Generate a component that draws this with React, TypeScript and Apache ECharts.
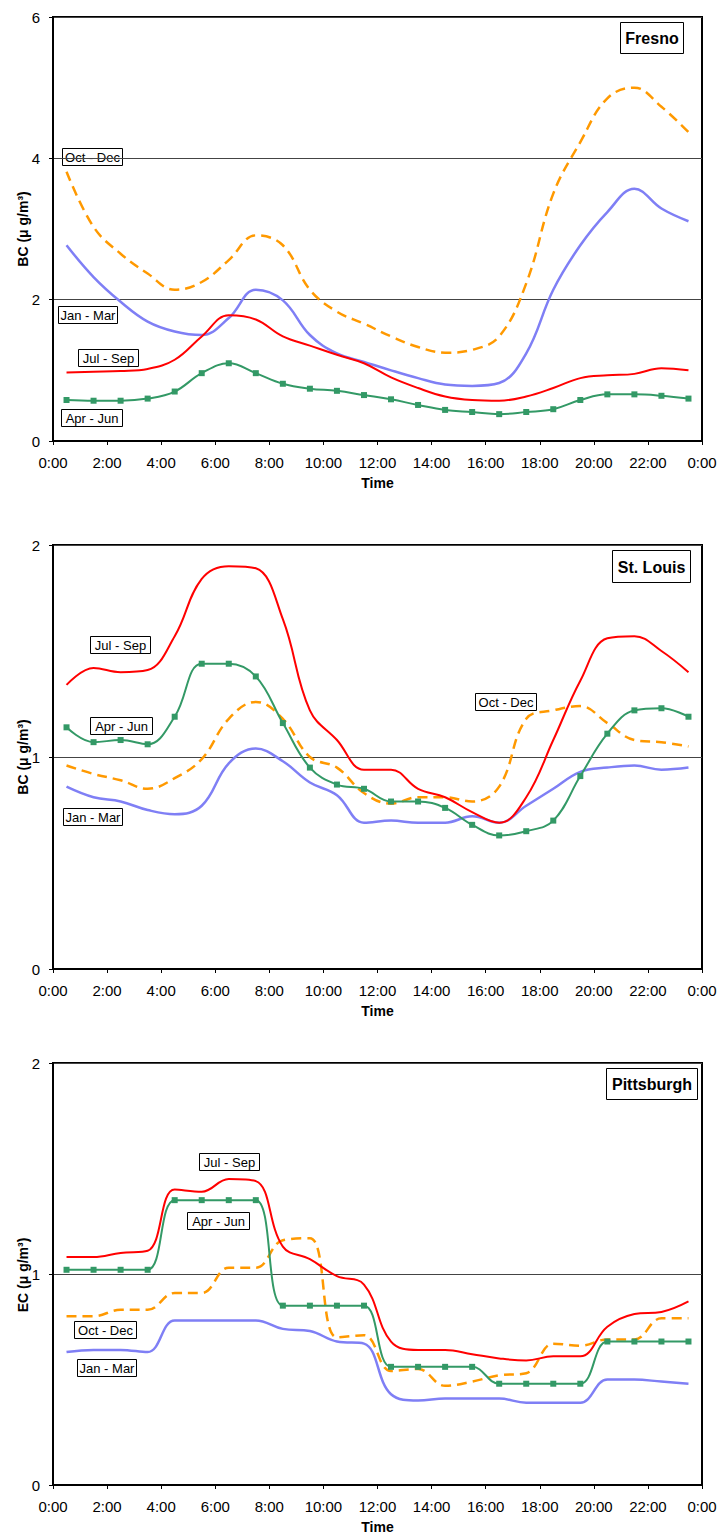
import React, { useEffect, useRef } from "react";
import * as echarts from "echarts";

const hours = [0.5, 1.5, 2.5, 3.5, 4.5, 5.5, 6.5, 7.5, 8.5, 9.5, 10.5, 11.5, 12.5, 13.5, 14.5, 15.5, 16.5, 17.5, 18.5, 19.5, 20.5, 21.5, 22.5, 23.5];
const xTickLabels = ["0:00", "2:00", "4:00", "6:00", "8:00", "10:00", "12:00", "14:00", "16:00", "18:00", "20:00", "22:00", "0:00"];
const seasonNames = ["Jan - Mar", "Apr - Jun", "Jul - Sep", "Oct - Dec"];

// Fresno (BC)
const fresnoJanMar = [2.77, 2.32, 1.97, 1.69, 1.55, 1.5, 1.74, 2.14, 1.99, 1.5, 1.24, 1.12, 1.0, 0.89, 0.8, 0.78, 0.82, 1.24, 2.14, 2.77, 3.24, 3.57, 3.29, 3.11];
const fresnoAprJun = [0.58, 0.57, 0.57, 0.6, 0.7, 0.96, 1.1, 0.96, 0.81, 0.74, 0.71, 0.65, 0.59, 0.51, 0.44, 0.41, 0.38, 0.41, 0.45, 0.58, 0.66, 0.66, 0.64, 0.6];
const fresnoJulSep = [0.97, 0.98, 0.99, 1.02, 1.15, 1.48, 1.78, 1.72, 1.48, 1.35, 1.22, 1.1, 0.9, 0.75, 0.63, 0.58, 0.57, 0.63, 0.75, 0.89, 0.93, 0.95, 1.03, 1.0];
const fresnoOctDec = [3.81, 3.03, 2.65, 2.37, 2.14, 2.25, 2.56, 2.91, 2.77, 2.14, 1.83, 1.66, 1.48, 1.33, 1.25, 1.29, 1.48, 2.23, 3.5, 4.23, 4.85, 5.0, 4.73, 4.37];

// St. Louis (BC)
const stLouisJanMar = [0.86, 0.81, 0.79, 0.75, 0.73, 0.77, 0.97, 1.04, 0.98, 0.88, 0.82, 0.69, 0.7, 0.69, 0.69, 0.72, 0.69, 0.77, 0.85, 0.93, 0.95, 0.96, 0.94, 0.95];
const stLouisAprJun = [1.14, 1.07, 1.08, 1.06, 1.19, 1.44, 1.44, 1.38, 1.16, 0.95, 0.87, 0.85, 0.79, 0.79, 0.76, 0.68, 0.63, 0.65, 0.7, 0.91, 1.11, 1.22, 1.23, 1.19];
const stLouisJulSep = [1.34, 1.42, 1.4, 1.41, 1.57, 1.84, 1.9, 1.89, 1.65, 1.22, 1.08, 0.94, 0.94, 0.85, 0.81, 0.74, 0.69, 0.81, 1.08, 1.36, 1.56, 1.57, 1.5, 1.4];
const stLouisOctDec = [0.96, 0.92, 0.89, 0.85, 0.9, 0.99, 1.18, 1.26, 1.18, 1.0, 0.95, 0.83, 0.78, 0.81, 0.81, 0.79, 0.86, 1.18, 1.22, 1.24, 1.16, 1.08, 1.07, 1.05];

// Pittsburgh (EC)
const pittJanMar = [0.63, 0.64, 0.64, 0.63, 0.78, 0.78, 0.78, 0.78, 0.74, 0.73, 0.68, 0.67, 0.43, 0.4, 0.41, 0.41, 0.41, 0.39, 0.39, 0.39, 0.5, 0.5, 0.49, 0.48];
const pittAprJun = [1.02, 1.02, 1.02, 1.02, 1.35, 1.35, 1.35, 1.35, 0.85, 0.85, 0.85, 0.85, 0.56, 0.56, 0.56, 0.56, 0.48, 0.48, 0.48, 0.48, 0.68, 0.68, 0.68, 0.68];
const pittJulSep = [1.08, 1.08, 1.1, 1.11, 1.4, 1.39, 1.45, 1.44, 1.13, 1.07, 0.99, 0.95, 0.68, 0.64, 0.64, 0.62, 0.6, 0.59, 0.61, 0.61, 0.75, 0.81, 0.82, 0.87];
const pittOctDec = [0.8, 0.8, 0.83, 0.83, 0.91, 0.91, 1.03, 1.03, 1.16, 1.17, 0.7, 0.71, 0.54, 0.55, 0.47, 0.49, 0.52, 0.53, 0.67, 0.66, 0.69, 0.69, 0.79, 0.79];

const panels = [
  { title: "Fresno", yName: "BC (\u03BC g/m\u00B3)", yMax: 6, yInterval: 2, data: [fresnoJanMar, fresnoAprJun, fresnoJulSep, fresnoOctDec] },
  { title: "St. Louis", yName: "BC (\u03BC g/m\u00B3)", yMax: 2, yInterval: 1, data: [stLouisJanMar, stLouisAprJun, stLouisJulSep, stLouisOctDec] },
  { title: "Pittsburgh", yName: "EC (\u03BC g/m\u00B3)", yMax: 2, yInterval: 1, data: [pittJanMar, pittAprJun, pittJulSep, pittOctDec] },
];

const gridTops = [17, 545, 1063];
const GRID_LEFT = 53;
const GRID_W = 649;
const GRID_H = 424;
const Y_NAME_X = 23;

// annotation boxes: [panel, label, left, top, width, height]
const seasonBoxes: [number, string, number, number, number, number][] = [
  [0, "Oct - Dec", 62, 148, 60, 17],
  [0, "Jan - Mar", 58, 306, 59, 17],
  [0, "Jul - Sep", 78, 349, 60, 17],
  [0, "Apr - Jun", 61, 409, 61, 17],
  [1, "Jul - Sep", 90, 636, 60, 17],
  [1, "Apr - Jun", 90, 717, 62, 17],
  [1, "Jan - Mar", 63, 808, 59, 17],
  [1, "Oct - Dec", 475, 693, 61, 17],
  [2, "Jul - Sep", 199, 1153, 60, 17],
  [2, "Apr - Jun", 187, 1212, 62, 17],
  [2, "Oct - Dec", 74, 1321, 62, 17],
  [2, "Jan - Mar", 77, 1359, 59, 17],
];
const titleBoxes: [string, number, number, number, number][] = [
  ["Fresno", 620, 22, 63, 31],
  ["St. Louis", 612, 550, 78, 32],
  ["Pittsburgh", 606, 1068, 91, 31],
];

const FONT = "'Liberation Sans', Arial, sans-serif";

export default function App() {
  const ref = useRef<HTMLDivElement>(null);
  useEffect(() => {
    document.body.style.margin = "0";
    const chart = echarts.init(ref.current!, null, { renderer: "svg" });
    const grids: any[] = [];
    const xAxes: any[] = [];
    const yAxes: any[] = [];
    const series: any[] = [];
    const graphics: any[] = [];
    panels.forEach((p, i) => {
      grids.push({ left: GRID_LEFT, top: gridTops[i], width: GRID_W, height: GRID_H, show: true, borderColor: "#000", borderWidth: 2, backgroundColor: "transparent" });
      xAxes.push({
        type: "value", gridIndex: i, min: 0, max: 24, interval: 2,
        name: "Time", nameLocation: "middle", nameGap: 42,
        nameTextStyle: { fontFamily: FONT, fontWeight: "bold", fontSize: 14, color: "#000", verticalAlign: "middle" },
        axisLine: { show: true, onZero: false, lineStyle: { color: "#000", width: 2 } },
        axisTick: { show: true, length: 4, inside: false, lineStyle: { color: "#000", width: 1 } },
        axisLabel: { margin: 14, fontFamily: FONT, fontSize: 15, color: "#000", formatter: (v: number) => xTickLabels[Math.round(v / 2)] },
        splitLine: { show: false },
      });
      yAxes.push({
        type: "value", gridIndex: i, min: 0, max: p.yMax, interval: p.yInterval,
        axisLine: { show: true, lineStyle: { color: "#000", width: 2 } },
        axisTick: { show: true, length: 4, inside: false, lineStyle: { color: "#000", width: 1 } },
        axisLabel: { margin: 13, fontFamily: FONT, fontSize: 15, color: "#000" },
        splitLine: { show: true, lineStyle: { color: "#444", width: 1 } },
      });
      graphics.push({
        type: "text", x: Y_NAME_X, y: gridTops[i] + GRID_H / 2, rotation: Math.PI / 2, z: 100,
        style: { text: p.yName, fill: "#000", font: `bold 14px ${FONT}`, align: "center", verticalAlign: "middle" },
      });
      const [jm, aj, js, od] = p.data;
      series.push({
        type: "line", name: seasonNames[0], xAxisIndex: i, yAxisIndex: i, smooth: 0.4, showSymbol: false,
        data: hours.map((h, k) => [h, jm[k]]), lineStyle: { color: "#7f7ff5", width: 2.5 }, z: 2,
      });
      series.push({
        type: "line", name: seasonNames[3], xAxisIndex: i, yAxisIndex: i, smooth: 0.4, showSymbol: false,
        data: hours.map((h, k) => [h, od[k]]), lineStyle: { color: "#ff9900", width: 2.5, type: [10, 6] }, z: 3,
      });
      series.push({
        type: "line", name: seasonNames[1], xAxisIndex: i, yAxisIndex: i, smooth: 0.4, showSymbol: true, showAllSymbol: true,
        symbol: "rect", symbolSize: 6,
        data: hours.map((h, k) => [h, aj[k]]), lineStyle: { color: "#339966", width: 2 }, itemStyle: { color: "#339966" }, z: 4,
      });
      series.push({
        type: "line", name: seasonNames[2], xAxisIndex: i, yAxisIndex: i, smooth: 0.4, showSymbol: false,
        data: hours.map((h, k) => [h, js[k]]), lineStyle: { color: "#ff0000", width: 2 }, z: 5,
      });
    });

    seasonBoxes.forEach(([, label, x, y, w, h]) => {
      graphics.push({
        type: "group", left: x, top: y, z: 100,
        children: [
          { type: "rect", shape: { x: 0, y: 0, width: w, height: h }, style: { fill: "#fff", stroke: "#000", lineWidth: 1 } },
          { type: "text", x: w / 2, y: h / 2 + 0.5, style: { text: label, fill: "#000", font: `13px ${FONT}`, align: "center", verticalAlign: "middle" } },
        ],
      });
    });
    titleBoxes.forEach(([label, x, y, w, h]) => {
      graphics.push({
        type: "group", left: x, top: y, z: 100,
        children: [
          { type: "rect", shape: { x: 0, y: 0, width: w, height: h }, style: { fill: "#fff", stroke: "#000", lineWidth: 1 } },
          { type: "text", x: w / 2, y: h / 2 + 0.5, style: { text: label, fill: "#000", font: `bold 16px ${FONT}`, align: "center", verticalAlign: "middle" } },
        ],
      });
    });

    chart.setOption({
      animation: false,
      backgroundColor: "#fff",
      grid: grids,
      xAxis: xAxes,
      yAxis: yAxes,
      series,
      graphic: graphics,
    });
    return () => chart.dispose();
  }, []);
  return <div ref={ref} style={{ width: 721, height: 1535 }} />;
}
